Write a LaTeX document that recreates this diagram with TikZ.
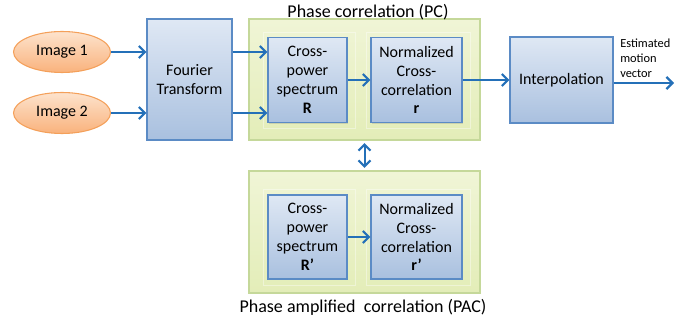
\documentclass[tikz,border=0pt]{standalone}
\usepackage{fontspec}
\setmainfont{Carlito}
\usetikzlibrary{arrows.meta,shadows,calc,shapes.geometric}
\definecolor{arrowblue}{HTML}{2470B8}
\definecolor{boxtop}{HTML}{DFE8F4}
\definecolor{boxbot}{HTML}{A9C0DF}
\definecolor{boxline}{HTML}{5B8BC5}
\definecolor{ortop}{HTML}{FDE3CD}
\definecolor{orbot}{HTML}{F9B27C}
\definecolor{orline}{HTML}{F4A05A}
\definecolor{grtop}{HTML}{F0F5D6}
\definecolor{grbot}{HTML}{E3EDB8}
\definecolor{grline}{HTML}{C5D89A}
\tikzset{
  bluebox/.style={draw=boxline, line width=0.8pt, top color=boxtop, bottom color=boxbot,
    align=center, font=\fontsize{12}{14.2}\selectfont, inner sep=1pt,
    drop shadow={opacity=0.25, shadow xshift=1pt, shadow yshift=-1pt}},
  greenbox/.style={draw=grline, line width=0.8pt, top color=grtop, bottom color=grbot,
    drop shadow={opacity=0.2, shadow xshift=1pt, shadow yshift=-1pt}},
  imgnode/.style={ellipse, draw=orline, line width=0.8pt, top color=ortop, bottom color=orbot,
    font=\fontsize{12}{14}\selectfont, minimum width=97*0.75pt, minimum height=41*0.75pt, inner sep=0pt},
  flow/.style={draw=arrowblue, line width=1.5pt, -{Straight Barb[length=4.5pt,width=9pt,line width=1.6pt]}},
  biflow/.style={draw=arrowblue, line width=1.5pt, {Straight Barb[length=4.5pt,width=9pt,line width=1.6pt]}-{Straight Barb[length=4.5pt,width=9pt,line width=1.6pt]}},
  faint/.style={draw=white, opacity=0.4, line width=0.4pt},
  title/.style={font=\fontsize{13.5}{16}\selectfont, inner sep=0pt},
}
\begin{document}
\begin{tikzpicture}[x=0.75pt, y=-0.75pt]
\useasboundingbox (0,0) rectangle (694,324);
% green containers
\node[greenbox, minimum width=231*0.75pt, minimum height=121*0.75pt] (pc) at (364.5,79.5) {};
\node[greenbox, minimum width=231*0.75pt, minimum height=122*0.75pt] (pac) at (364.5,232) {};
% faint inner frames
\draw[faint] (263,32) rectangle (355,128);
\draw[faint] (366,32) rectangle (470,128);
\draw[faint] (263,189) rectangle (355,285);
\draw[faint] (366,189) rectangle (470,285);
% titles
\node[title] (pctitle) at (368,12) {Phase correlation (PC)};
\node[title] (pactitle) at (363,307) {Phase amplified~ correlation (PAC)};
% image nodes
\node[imgnode] (img1) at (62,52) {Image 1};
\node[imgnode] (img2) at (62,113) {Image 2};
% blue boxes
\node[bluebox, minimum width=85*0.75pt, minimum height=121*0.75pt] (ft) at (189.5,79.5) {Fourier\\Transform};
\node[bluebox, minimum width=79*0.75pt, minimum height=85*0.75pt] (cross) at (307.5,80) {Cross-\\power\\spectrum\\\textbf{R}};
\node[bluebox, minimum width=91*0.75pt, minimum height=85*0.75pt] (norm) at (416.5,80) {Normalized\\Cross-\\correlation\\\textbf{r}};
\node[bluebox, minimum width=103*0.75pt, minimum height=86*0.75pt] (interp) at (561.5,80) {Interpolation};
\node[bluebox, minimum width=79*0.75pt, minimum height=84*0.75pt] (cross2) at (307.5,237) {Cross-\\power\\spectrum\\\textbf{R’}};
\node[bluebox, minimum width=91*0.75pt, minimum height=84*0.75pt] (norm2) at (416.5,237) {Normalized\\Cross-\\correlation\\\textbf{r’}};
% output label
\node[anchor=north west, align=left, inner sep=0pt, font=\fontsize{9.3}{11}\selectfont] (outlabel) at (620,39) {Estimated\\motion\\vector};
\coordinate (out) at (674,83);
% connectors
\draw[flow] (img1.east) -- (img1.east -| ft.west);
\draw[flow] (img2.east) -- (img2.east -| ft.west);
\draw[flow] (ft.east |- img1.east) -- (cross.west |- img1.east);
\draw[flow] (ft.east |- img2.east) -- (cross.west |- img2.east);
\draw[flow] (cross.east) -- (norm.west);
\draw[flow] (norm.east) -- (interp.west);
\draw[flow] (interp.east |- out) -- (out);
\draw[biflow, shorten <=2pt, shorten >=2pt] (pc.south) -- (pac.north);
\draw[flow] (cross2.east) -- (norm2.west);
\end{tikzpicture}
\end{document}
